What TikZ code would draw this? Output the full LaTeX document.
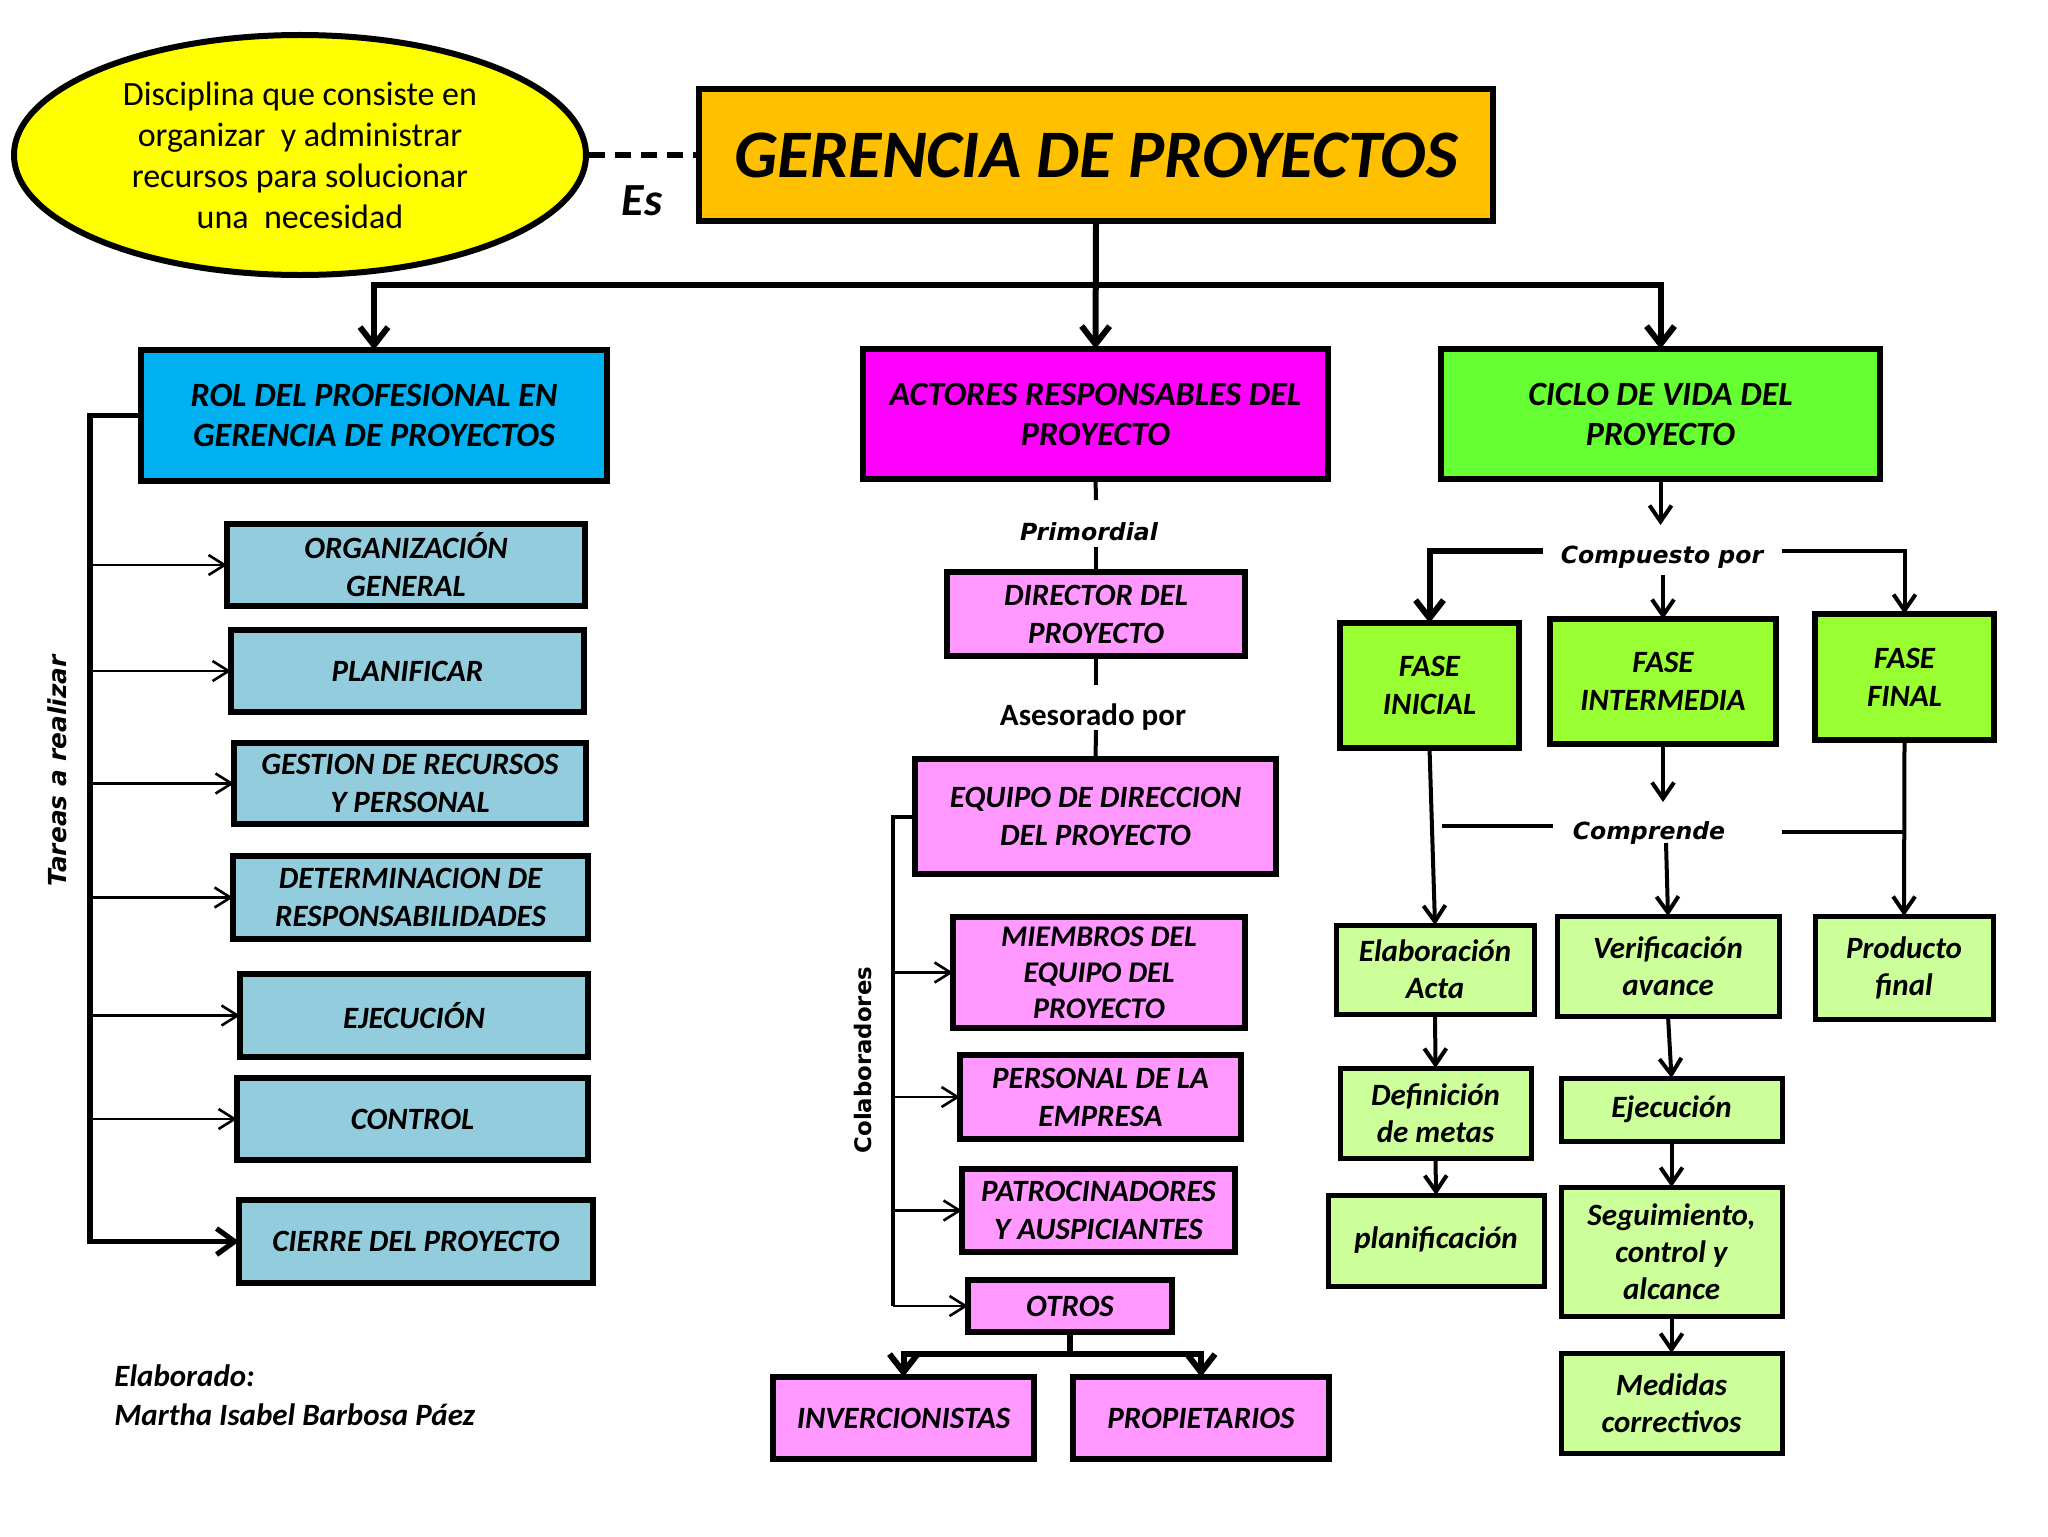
\documentclass[tikz,border=0pt]{standalone}
\usepackage{fontspec}
\setmainfont{Carlito}
\newfontfamily\dv{DejaVu Sans}
\usetikzlibrary{arrows.meta,shapes.geometric}
\definecolor{cyel}{HTML}{FFFF00}
\definecolor{cger}{HTML}{FFC000}
\definecolor{crol}{HTML}{00B0F0}
\definecolor{clb}{HTML}{93CDDD}
\definecolor{cmag}{HTML}{FF00FF}
\definecolor{cpink}{HTML}{FF99FF}
\definecolor{ccic}{HTML}{66FF33}
\definecolor{cfase}{HTML}{99FF33}
\definecolor{clg}{HTML}{CCFF99}
\begin{document}
\begin{tikzpicture}[x=0.5pt,y=-0.5pt,
 box/.style={draw, line width=3pt, inner sep=0pt, outer sep=0pt, align=center, font=\bfseries\itshape\fontsize{15.5}{19}\selectfont},
 bigbox/.style={box, font=\bfseries\itshape\fontsize{17}{20}\selectfont},
 pinkbox/.style={box, fill=cpink},
 bluebox/.style={box, fill=clb},
 fasebox/.style={box, fill=cfase},
 lgbox/.style={box, line width=2.5pt, fill=clg, font=\bfseries\itshape\fontsize{15.5}{18.5}\selectfont},
 lab/.style={inner sep=0pt, font=\dv\bfseries\itshape\fontsize{11.8}{14}\selectfont},
 bigline/.style={line width=3pt},
 bigarr/.style={line width=3pt, -{Straight Barb[length=9pt,width=14pt]}},
 medline/.style={line width=2pt},
 medarr/.style={line width=2pt, -{Straight Barb[length=8pt,width=11pt]}},
 thinarr/.style={line width=1.3pt, -{Straight Barb[length=8pt,width=10pt]}},
]
\fill[white] (0,0) rectangle (2048,1536);
\useasboundingbox (0,0) rectangle (2048,1536);

% top
\node[ellipse, draw, line width=3pt, fill=cyel, minimum width=286pt, minimum height=120pt, inner sep=0pt, align=center, font=\fontsize{17}{20.5}\selectfont] (ell) at (300,155) {Disciplina que consiste en\\organizar\ \ y administrar\\recursos para solucionar\\una\ \ necesidad};
\node[box, fill=cger, minimum width=397pt, minimum height=66pt, font=\bfseries\itshape\fontsize{34}{40}\selectfont] (ger) at (1096,155) {GERENCIA DE PROYECTOS};

\node[bigbox, fill=crol, minimum width=233pt, minimum height=65.5pt] (rol) at (374,415.5) {ROL DEL PROFESIONAL EN\\GERENCIA DE PROYECTOS};
\node[bigbox, fill=cmag, minimum width=232.5pt, minimum height=65pt] (act) at (1095.5,414) {ACTORES RESPONSABLES DEL\\PROYECTO};
\node[bigbox, fill=ccic, minimum width=219.5pt, minimum height=65pt] (cic) at (1660.5,414) {CICLO DE VIDA DEL\\PROYECTO};

% left column
\node[bluebox, minimum width=179pt, minimum height=41pt] (org) at (406,565) {ORGANIZACIÓN\\GENERAL};
\node[bluebox, minimum width=176.5pt, minimum height=41pt] (pla) at (407.5,671) {PLANIFICAR};
\node[bluebox, minimum width=176pt, minimum height=40.5pt] (ges) at (410,783.5) {GESTION DE RECURSOS\\Y PERSONAL};
\node[bluebox, minimum width=177.5pt, minimum height=41.5pt] (det) at (410.5,897.5) {DETERMINACION DE\\RESPONSABILIDADES};
\node[bluebox, minimum width=174pt, minimum height=41.5pt] (eje) at (414,1015.5) {EJECUCIÓN};
\node[bluebox, minimum width=175.5pt, minimum height=41pt] (con) at (412.5,1119) {CONTROL};
\node[bluebox, minimum width=177pt, minimum height=41.5pt] (cie) at (416,1241.5) {CIERRE DEL PROYECTO};

% middle column
\node[pinkbox, minimum width=149pt, minimum height=42pt] (dir) at (1096,614) {DIRECTOR DEL\\PROYECTO};
\node[pinkbox, minimum width=180.5pt, minimum height=57.5pt] (equ) at (1095.5,816.5) {EQUIPO DE DIRECCION\\DEL PROYECTO};
\node[pinkbox, minimum width=146pt, minimum height=55.5pt, font=\bfseries\itshape\fontsize{15}{18}\selectfont] (mie) at (1099,972.5) {MIEMBROS DEL\\EQUIPO DEL\\PROYECTO};
\node[pinkbox, minimum width=140.5pt, minimum height=42pt] (per) at (1100.5,1097) {PERSONAL DE LA\\EMPRESA};
\node[pinkbox, minimum width=136.5pt, minimum height=41.5pt] (pat) at (1098.5,1210.5) {PATROCINADORES\\Y AUSPICIANTES};
\node[pinkbox, minimum width=102pt, minimum height=26pt] (otr) at (1070,1306) {OTROS};
\node[pinkbox, minimum width=130.5pt, minimum height=41pt] (inv) at (903.5,1418) {INVERCIONISTAS};
\node[pinkbox, minimum width=128pt, minimum height=41pt] (pro) at (1201,1418) {PROPIETARIOS};

% right column
\node[fasebox, minimum width=89.5pt, minimum height=62.5pt] (fi) at (1429.5,685.5) {FASE\\INICIAL};
\node[fasebox, minimum width=113pt, minimum height=62.5pt] (fm) at (1663,681.5) {FASE\\INTERMEDIA};
\node[fasebox, minimum width=89.5pt, minimum height=63pt] (ff) at (1904.5,677) {FASE\\FINAL};
\node[lgbox, minimum width=99pt, minimum height=44.5pt] (ela) at (1435,969.5) {Elaboración\\Acta};
\node[lgbox, minimum width=111pt, minimum height=50pt] (ver) at (1668,966) {Verificación\\avance};
\node[lgbox, minimum width=89pt, minimum height=51.5pt] (prd) at (1904,967.5) {Producto\\final};
\node[lgbox, minimum width=95.5pt, minimum height=45pt] (def) at (1435.5,1113) {Definición\\de metas};
\node[lgbox, minimum width=108pt, minimum height=45.5pt] (plf) at (1436,1240.5) {planificación};
\node[lgbox, minimum width=110.5pt, minimum height=31.5pt] (ejg) at (1671.5,1109.5) {Ejecución};
\node[lgbox, minimum width=110.5pt, minimum height=64.5pt] (seg) at (1671.5,1251.5) {Seguimiento,\\control y\\alcance};
\node[lgbox, minimum width=110.5pt, minimum height=50pt] (med) at (1671.5,1403) {Medidas\\correctivos};

% labels
\node[inner sep=0pt, font=\bfseries\itshape\fontsize{23}{28}\selectfont] (es) at (642,201) {Es};
\node[lab] (prim) at (1089,532) {Primordial};
\node[inner sep=0pt, font=\bfseries\fontsize{15.5}{19}\selectfont] (ases) at (1093,717) {Asesorado por};
\node[lab] (comp) at (1662,557) {Compuesto por};
\node[lab] (compr) at (1649,833) {Comprende};
\node[rotate=90, inner sep=0pt, font=\dv\bfseries\fontsize{11.4}{14}\selectfont] (colab) at (863,1060) {Colaboradores};
\node[rotate=90, inner sep=0pt, font=\dv\bfseries\itshape\fontsize{12.4}{14}\selectfont] (tareas) at (57,771) {Tareas a realizar};
\node[anchor=west, inner sep=0pt, font=\bfseries\itshape\fontsize{15.5}{19}\selectfont] (elab) at (114,1376) {Elaborado:};
\node[anchor=west, inner sep=0pt, font=\bfseries\itshape\fontsize{15.5}{19}\selectfont] (mart) at (114,1415) {Martha Isabel Barbosa Páez};

% connectors top
\draw[line width=3pt, dash pattern=on 8pt off 5pt] (ell.east) -- (ger.west);
\draw[bigarr] (ger.south) -- (act.north);
\coordinate (bus) at (1096,285);
\draw[bigarr] (bus) -| (rol.north);
\draw[bigarr] (bus) -| (cic.north);

% tareas
\coordinate (tl) at (90,415.5);
\draw[line width=2.6pt, -{Straight Barb[length=9pt,width=13pt]}] (rol.west) -- (tl) |- (cie.west);
\foreach \n in {org,pla,ges,det,eje,con} \draw[thinarr] (tl |- \n.west) -- (\n.west);

% actores
\coordinate (p1) at (1096,500); \coordinate (p2) at (1096,547);
\draw[medline] (act.south) -- (p1);
\draw[medline] (p2) -- (dir.north);
\coordinate (a1) at (1096,685); \coordinate (a2) at (1096,730);
\draw[medline] (dir.south) -- (a1);
\draw[medline] (a2) -- (equ.north);
\coordinate (cb) at (893,816.5);
\draw[line width=2pt] (equ.west) -- (cb) -- (cb |- otr.west);
\foreach \n in {mie,per,pat,otr} \draw[thinarr] (cb |- \n.west) -- (\n.west);
\coordinate (ob) at (1070,1354);
\draw[bigline] (otr.south) -- (ob);
\draw[bigarr] (ob) -| (inv.north);
\draw[bigarr] (ob) -| (pro.north);

% ciclo
\coordinate (cd) at (1660.5,525);
\draw[medarr] (cic.south) -- (cd);
\coordinate (cpl) at (1543,551); \draw[bigarr] (cpl) -| (fi.north);
\coordinate (cpr) at (1782,551); \draw[medarr] (cpr) -| (ff.north);
\coordinate (cpm) at (1663,575); \draw[medarr] (cpm) -- (fm.north);
\draw[medarr] (fi.south) -- (ela.north);
\coordinate (fmd) at (1663,802); \draw[medarr] (fm.south) -- (fmd);
\coordinate (cml1) at (1442,826); \coordinate (cml2) at (1553,826);
\draw[medline] (cml1) -- (cml2);
\coordinate (cmr) at (1782,832); \draw[medline] (cmr) -- (cmr -| ff.south);
\coordinate (vt) at (1666,843); \draw[medarr] (vt) -- (ver.north);
\draw[medarr] (ff.south) -- (prd.north);
\draw[medarr] (ela.south) -- (def.north);
\draw[medarr] (def.south) -- (plf.north);
\draw[medarr] (ver.south) -- (ejg.north);
\draw[medarr] (ejg.south) -- (seg.north);
\draw[medarr] (seg.south) -- (med.north);
\end{tikzpicture}
\end{document}
